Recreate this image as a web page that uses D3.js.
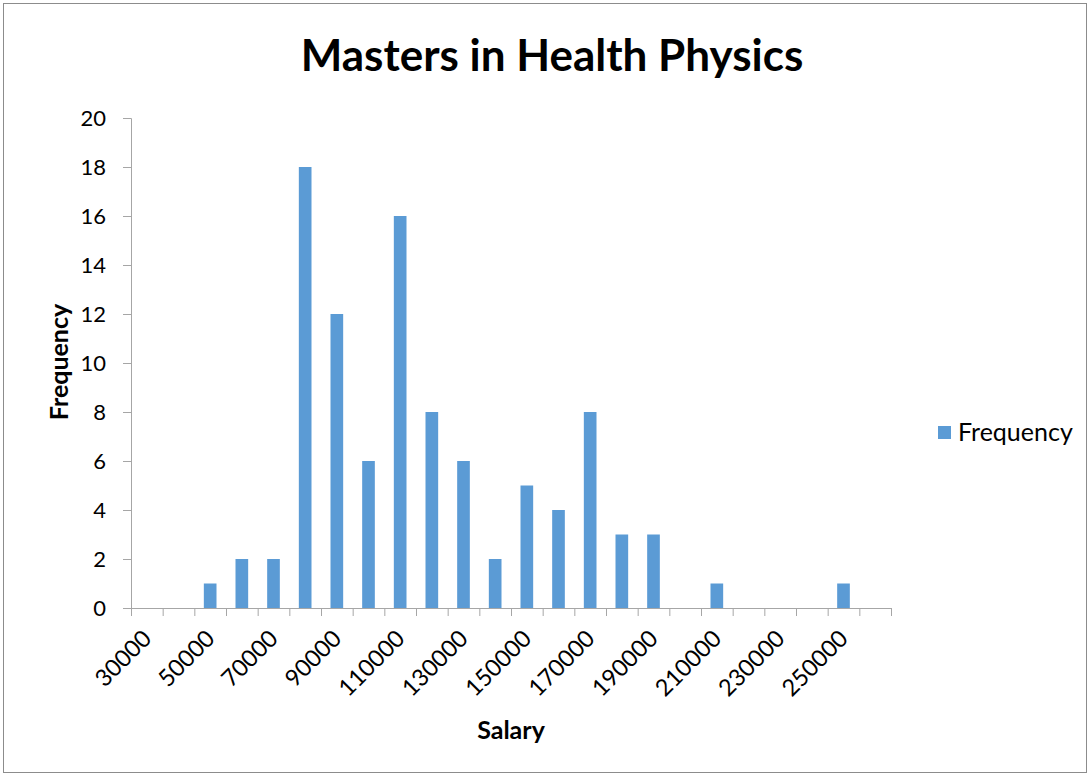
<!DOCTYPE html>
<html lang="en">
<head>
  <meta charset="UTF-8">
  <title>Masters in Health Physics</title>
  <script src="https://d3js.org/d3.v7.min.js"></script>
  <style>
    body {
      margin: 0;
      padding: 0;
      background: #ffffff;
      font-family: 'Lato', 'Open Sans', sans-serif;
    }
  </style>
</head>
<body>
  <svg id="chart" width="1090" height="776"></svg>

  <script>
    // salary bins (upper bound) and counts
    const salaries = [30000, 40000, 50000, 60000, 70000, 80000, 90000, 100000, 110000, 120000,
                      130000, 140000, 150000, 160000, 170000, 180000, 190000, 200000, 210000,
                      220000, 230000, 240000, 250000, 260000];
    const frequency = [0, 0, 1, 2, 2, 18, 12, 6, 16, 8, 6, 2, 5, 4, 8, 3, 3, 0, 1, 0, 0, 0, 1, 0];
    const yTicks = [0, 2, 4, 6, 8, 10, 12, 14, 16, 18, 20];

    const svg = d3.select("#chart");
    const plotLeft = 131, plotRight = 891, plotTop = 118, plotBottom = 608;
    const barColor = "#5b9bd5";
    const axisColor = "#a6a6a6";

    // outer chart border
    svg.append("rect")
       .attr("x", 3.5).attr("y", 3.5)
       .attr("width", 1083).attr("height", 769)
       .style("fill", "none")
       .style("stroke", "#8c8c8c")
       .style("stroke-width", 1);

    const x = d3.scaleBand()
      .domain(salaries)
      .range([plotLeft, plotRight])
      .paddingInner(0.6)
      .paddingOuter(0.3);

    const y = d3.scaleLinear()
      .domain([0, 20])
      .range([plotBottom, plotTop]);

    // bars
    svg.selectAll("rect.bar")
       .data(salaries)
       .enter()
       .append("rect")
       .attr("class", "bar")
       .attr("x", d => x(d))
       .attr("width", x.bandwidth())
       .attr("y", (d, i) => y(frequency[i]))
       .attr("height", (d, i) => y(0) - y(frequency[i]))
       .style("fill", barColor);

    // y axis
    const yAxis = svg.append("g")
      .attr("transform", `translate(${plotLeft},0)`)
      .call(d3.axisLeft(y).tickValues(yTicks).tickSize(8).tickPadding(17));
    yAxis.select(".domain").style("stroke", axisColor);
    yAxis.selectAll(".tick line").style("stroke", axisColor);
    yAxis.selectAll(".tick text")
         .style("font-size", "22px")
         .style("font-family", "Lato, sans-serif")
         .style("fill", "#000");

    // x axis: ticks on category boundaries
    const boundaries = d3.range(salaries.length + 1)
      .map(i => plotLeft + i * (plotRight - plotLeft) / salaries.length);
    svg.append("line")
       .attr("x1", plotLeft).attr("x2", plotRight)
       .attr("y1", plotBottom + 0.5).attr("y2", plotBottom + 0.5)
       .style("stroke", axisColor);
    svg.selectAll("line.xtick")
       .data(boundaries)
       .enter()
       .append("line")
       .attr("class", "xtick")
       .attr("x1", d => d + 0.5).attr("x2", d => d + 0.5)
       .attr("y1", plotBottom).attr("y2", plotBottom + 8)
       .style("stroke", axisColor);

    // x labels every other category, rotated
    svg.selectAll("text.xlabel")
       .data(salaries.filter((d, i) => i % 2 === 0))
       .enter()
       .append("text")
       .attr("class", "xlabel")
       .attr("transform", d => `translate(${x(d) + x.bandwidth() / 2 + 6},${plotBottom + 32}) rotate(-45)`)
       .attr("text-anchor", "end")
       .style("font-size", "23.5px")
       .style("fill", "#000")
       .text(d => d);

    // title
    svg.append("text")
       .attr("x", 552).attr("y", 71)
       .attr("text-anchor", "middle")
       .style("font-size", "44px")
       .style("font-weight", "bold")
       .text("Masters in Health Physics");

    // axis titles
    svg.append("text")
       .attr("transform", `translate(68,362) rotate(-90)`)
       .attr("text-anchor", "middle")
       .style("font-size", "25px")
       .style("font-weight", "bold")
       .text("Frequency");

    svg.append("text")
       .attr("x", 511).attr("y", 739)
       .attr("text-anchor", "middle")
       .style("font-size", "25px")
       .style("font-weight", "bold")
       .text("Salary");

    // legend
    svg.append("rect")
       .attr("x", 938).attr("y", 426)
       .attr("width", 13).attr("height", 13)
       .style("fill", barColor);
    svg.append("text")
       .attr("x", 958).attr("y", 441)
       .style("font-size", "25px")
       .text("Frequency");
  </script>
</body>
</html>
